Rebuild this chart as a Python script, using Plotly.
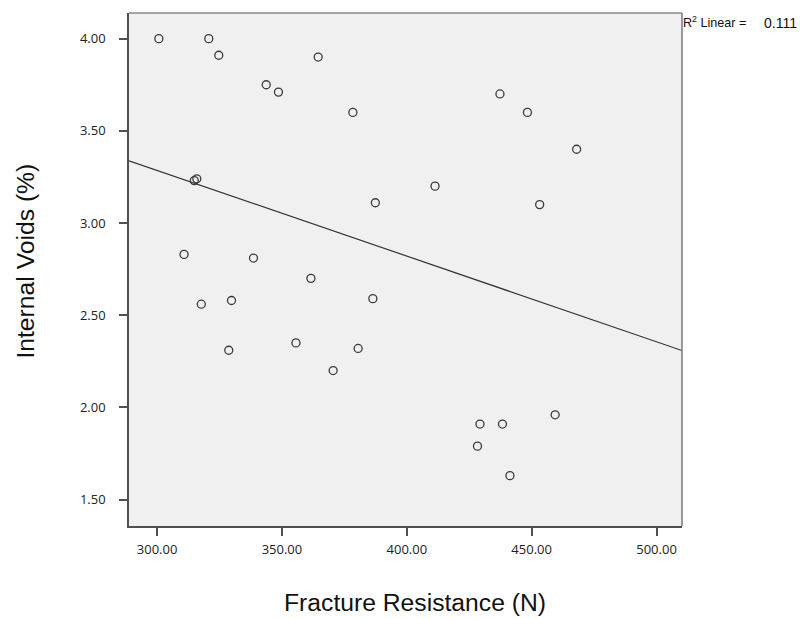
import numpy as np
import plotly.graph_objects as go

fracture_resistance = [300.7, 320.7, 324.7, 343.7, 348.6, 364.5, 378.4, 314.9, 315.9, 387.4,
                       310.8, 338.6, 361.6, 317.7, 329.8, 328.7, 355.6, 386.4, 380.5, 370.5,
                       437.3, 448.3, 468.0, 411.3, 453.2, 429.3, 438.3, 459.4, 428.3, 441.3]
internal_voids = [4.00, 4.00, 3.91, 3.75, 3.71, 3.90, 3.60, 3.23, 3.24, 3.11,
                  2.83, 2.81, 2.70, 2.56, 2.58, 2.31, 2.35, 2.59, 2.32, 2.20,
                  3.70, 3.60, 3.40, 3.20, 3.10, 1.91, 1.91, 1.96, 1.79, 1.63]
x_ticks = [300, 350, 400, 450, 500]
y_ticks = [1.5, 2.0, 2.5, 3.0, 3.5, 4.0]
x_range = [288.75, 510.2]
y_range = [1.357, 4.139]
x_title = "Fracture Resistance (N)"
y_title = "Internal Voids (%)"
r2_label = "R<sup>2</sup> Linear ="
r2_text = "0.111"

xa = np.array(fracture_resistance)
ya = np.array(internal_voids)
slope, intercept = np.polyfit(xa, ya, 1)
line_x = np.array(x_range)
line_y = slope * line_x + intercept

fig = go.Figure()
fig.add_trace(go.Scatter(x=line_x, y=line_y, mode="lines",
                         line=dict(color="#333333", width=1.2), hoverinfo="skip"))
fig.add_trace(go.Scatter(x=fracture_resistance, y=internal_voids, mode="markers",
                         marker=dict(symbol="circle-open", size=8,
                                     line=dict(color="#3a3a3a", width=1.3), color="#3a3a3a")))

axis_common = dict(showgrid=False, zeroline=False, showline=True, linecolor="#505050",
                   linewidth=1.6, mirror=False, ticks="outside", ticklen=8,
                   tickcolor="#505050", tickwidth=1.5,
                   tickfont=dict(family="Open Sans, sans-serif", size=13, color="#222222"))

title_font = dict(family="Liberation Sans, Arial, sans-serif", size=24.7, color="#111111")

fig.update_layout(
    width=800, height=619,
    margin=dict(l=129, r=118, t=13, b=93),
    paper_bgcolor="white", plot_bgcolor="#f0f0f0",
    showlegend=False,
    xaxis=dict(range=x_range, tickvals=x_ticks, tickformat=".2f", ticklabelstandoff=3,
               **axis_common),
    yaxis=dict(range=y_range, tickvals=y_ticks, tickformat=".2f", ticklabelstandoff=11,
               **axis_common),
)

# lighter top and right frame lines
fig.add_shape(type="line", xref="paper", yref="paper", x0=0, x1=1, y0=1, y1=1,
              line=dict(color="#8a8a8a", width=1.5))
fig.add_shape(type="line", xref="paper", yref="paper", x0=1, x1=1, y0=0, y1=1,
              line=dict(color="#7a7a7a", width=1.5))

# axis titles
fig.add_annotation(xref="paper", yref="paper", x=0.517, y=-0.150, xanchor="center", yanchor="middle",
                   showarrow=False, text=x_title, font=title_font)
fig.add_annotation(xref="paper", yref="paper", x=-0.187, y=0.5166, xanchor="center", yanchor="middle",
                   showarrow=False, text=y_title, textangle=-90, font=title_font)

# R squared note
fig.add_annotation(xref="paper", yref="paper", x=1.0, y=1.0, xanchor="left", yanchor="middle",
                   yshift=-9, xshift=-1, showarrow=False, text=r2_label,
                   font=dict(family="Liberation Sans, Arial, sans-serif", size=12.6, color="#111111"))
fig.add_annotation(xref="paper", yref="paper", x=1.0, y=1.0, xanchor="left", yanchor="middle",
                   yshift=-10, xshift=80, showarrow=False, text=r2_text,
                   font=dict(family="Liberation Sans, Arial, sans-serif", size=14, color="#111111"))

fig.write_html("out.html", config={"displayModeBar": False},
               post_script="document.body.style.margin='0px'; document.body.style.overflow='hidden';")
